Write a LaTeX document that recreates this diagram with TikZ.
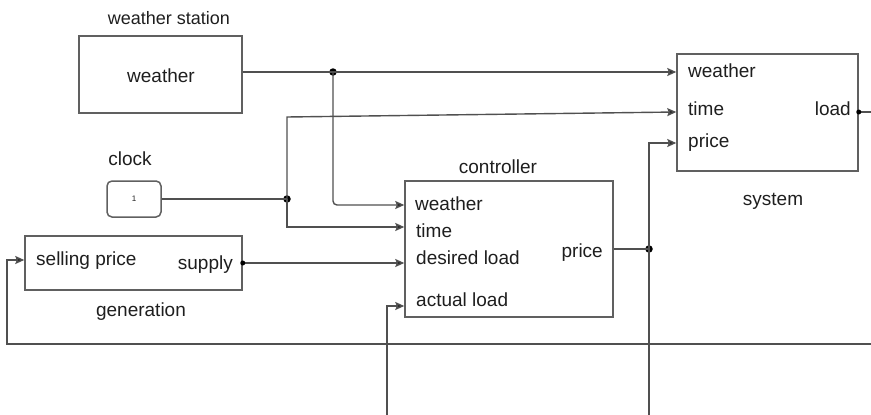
\documentclass[tikz,border=0pt]{standalone}
\usepackage{fontspec}
\setmainfont{Liberation Sans}
\usetikzlibrary{arrows.meta}
\definecolor{wire}{HTML}{505050}
\definecolor{edge}{HTML}{606060}
\definecolor{ink}{HTML}{1E1E1E}
\tikzset{
  block/.style={draw=edge, line width=1.5pt, inner sep=0pt},
  wire/.style={draw=wire, line width=1.4pt},
  feed/.style={wire, -{Stealth[length=9pt,width=8pt,inset=1.5pt,fill=black!85]}},
  lbl/.style={text=ink, font=\fontsize{19}{22}\selectfont, inner sep=0pt, anchor=base west},
  lblr/.style={lbl, anchor=base east},
  title/.style={lbl, anchor=base},
  junction/.style={circle, fill=black, inner sep=0pt, minimum size=7.5pt},
  portdot/.style={circle, fill=black, inner sep=0pt, minimum size=5pt},
}
\begin{document}
\begin{tikzpicture}[x=1pt,y=-1pt]
\useasboundingbox (0,0) rectangle (871,415);

% blocks
\node[block, minimum width=163pt, minimum height=77pt] (ws) at (160.5,74.5) {};
\node[block, minimum width=208pt, minimum height=136pt] (ctrl) at (509,249) {};
\node[block, minimum width=181pt, minimum height=117pt] (sys) at (767.5,112.5) {};
\node[block, minimum width=217pt, minimum height=54pt] (gen) at (133.5,263) {};
\node[block, rounded corners=5pt, minimum width=54pt, minimum height=36pt] (clk) at (134,199)
  {\color{ink}\fontsize{8}{8}\selectfont 1};

% titles
\node[title, font=\fontsize{18}{21}\selectfont] (ws-t) at (169,24) {weather station};
\node[title] (ws-o) at (161,82) {weather};
\node[title] (clk-t) at (130,165) {clock};
\node[title] (ctrl-t) at (498,173) {controller};
\node[title] (sys-t) at (773,205) {system};
\node[title] (gen-t) at (141,316) {generation};

% ports of system
\node[lbl] (sys-w) at (688,77) {weather};
\node[lbl] (sys-ti) at (688,115) {time};
\node[lbl] (sys-p) at (688,147) {price};
\node[lblr] (sys-l) at (851,115) {load};

% ports of controller
\node[lbl] (ctrl-w) at (415,210) {weather};
\node[lbl] (ctrl-ti) at (416,237) {time};
\node[lbl] (ctrl-d) at (416,264) {desired load};
\node[lbl] (ctrl-a) at (416,306) {actual load};
\node[lblr] (ctrl-p) at (603,257) {price};

% ports of generation
\node[lbl] (gen-s) at (36,265) {selling price};
\node[lblr] (gen-o) at (233,269) {supply};

% junctions and free ends
\node[junction] (wj) at (333,72) {};
\node[junction] (tj) at (287,199) {};
\node[junction] (pj) at (649,249) {};
\coordinate (tup) at (287,117);
\coordinate (pup) at (649,143);
\coordinate (pbot) at (649,415);
\coordinate (abot) at (387,415);
\coordinate (fr) at (871,344);
\coordinate (fl) at (7,344);
\coordinate (lr) at (871,112);

% weather
\draw[feed] (ws.east |- 0,72) -- (sys.west |- 0,72);
\draw[feed, rounded corners=4pt] (wj.center) |- (ctrl.west |- 0,205);

% time
\draw[wire] (clk.east) -- (tj.center);
\draw[feed] (tj.center) -- (tup) -- (sys.west |- 0,112);
\draw[feed] (tj.center) |- (ctrl.west |- 0,227);

% supply
\draw[feed] (gen.east |- 0,263) -- (ctrl.west |- 0,263);
\node[portdot] (gen-pd) at (gen.east |- 0,263) {};

% price
\draw[wire] (ctrl.east |- 0,249) -- (pj.center);
\draw[feed] (pbot) -- (pup) -- (sys.west |- 0,143);

% actual load
\draw[feed] (abot) |- (ctrl.west |- 0,306);

% feedback to selling price
\draw[feed] (fr) -- (fl) |- (gen.west |- 0,260);

% load output
\draw[wire] (sys.east |- 0,112) -- (lr);
\node[portdot] (sys-pd) at (sys.east |- 0,112) {};
\end{tikzpicture}
\end{document}
